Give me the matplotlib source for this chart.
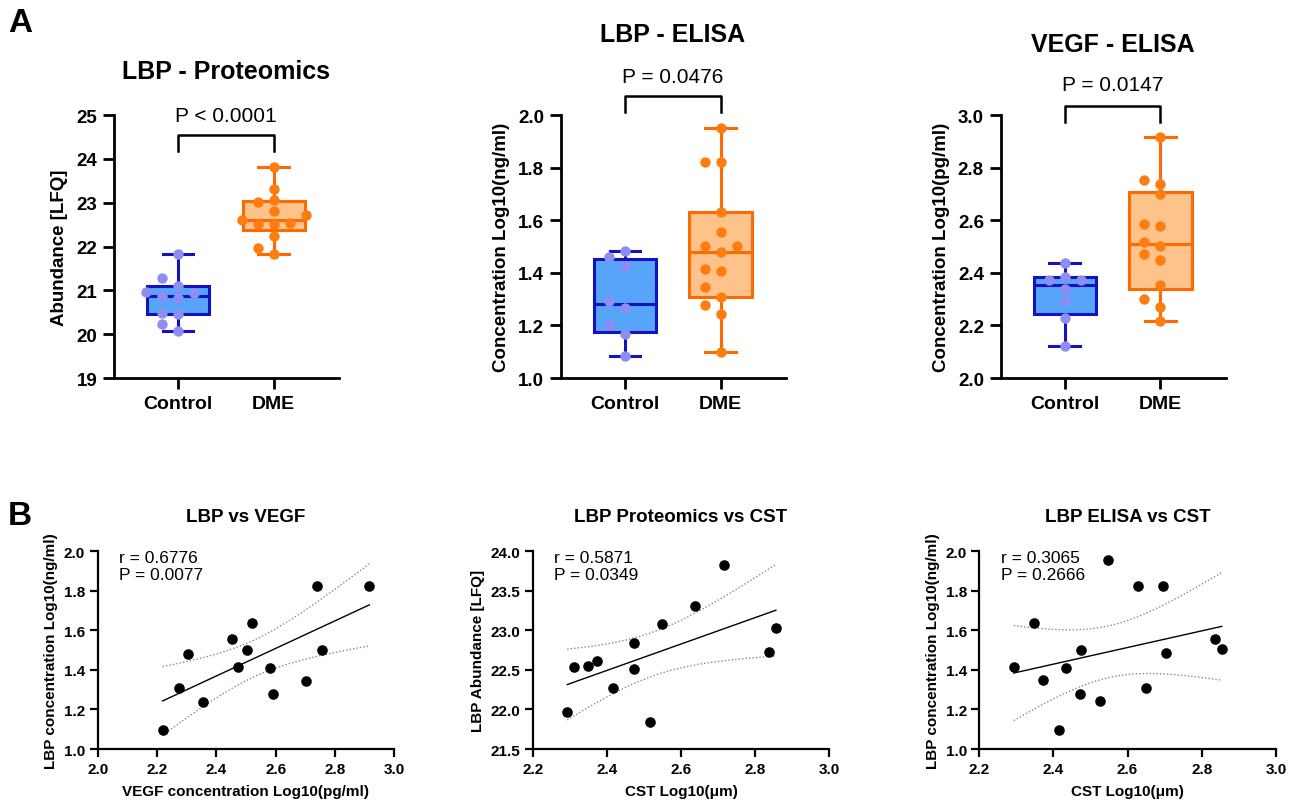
"""LBP / VEGF box plots (A) and correlation scatter plots (B)."""

import matplotlib

matplotlib.use("Agg")
import matplotlib.pyplot as plt
import numpy as np

plt.rcParams["font.family"] = ["Liberation Sans", "DejaVu Sans"]

# ---- panel A data -------------------------------------------------------
groups = ["Control", "DME"]

prot_control = [21.82, 21.29, 21.09, 20.97, 20.95, 20.83, 20.88, 20.46, 20.48, 20.23, 20.07]
prot_dme = [23.82, 23.31, 23.02, 23.07, 22.82, 22.73, 22.60, 22.52, 22.52, 22.54, 22.25, 21.96, 21.82]

elisa_control = [1.482, 1.462, 1.427, 1.294, 1.266, 1.200, 1.167, 1.084]
elisa_dme = [1.949, 1.820, 1.820, 1.632, 1.554, 1.501, 1.501, 1.481, 1.415, 1.408,
             1.346, 1.309, 1.278, 1.243, 1.099]

vegf_control = [2.437, 2.371, 2.386, 2.371, 2.339, 2.292, 2.229, 2.122]
vegf_dme = [2.915, 2.754, 2.739, 2.698, 2.578, 2.586, 2.501, 2.516, 2.450, 2.470,
            2.352, 2.299, 2.269, 2.217]

box_titles = ["LBP - Proteomics", "LBP - ELISA", "VEGF - ELISA"]
box_ylabels = ["Abundance [LFQ]", "Concentration Log10(ng/ml)", "Concentration Log10(pg/ml)"]
box_pvalues = ["P < 0.0001", "P = 0.0476", "P = 0.0147"]

# ---- panel B data -------------------------------------------------------
vegf_x = [2.219, 2.273, 2.304, 2.354, 2.453, 2.473, 2.504, 2.519, 2.580, 2.590,
          2.701, 2.739, 2.757, 2.916]
lbp_vs_vegf = [1.095, 1.308, 1.482, 1.240, 1.555, 1.415, 1.499, 1.635, 1.408, 1.277,
               1.345, 1.824, 1.503, 1.826]

cst_prot_x = [2.293, 2.311, 2.349, 2.374, 2.416, 2.473, 2.474, 2.516, 2.549, 2.639,
              2.717, 2.838, 2.856]
prot_vs_cst = [21.968, 22.533, 22.554, 22.609, 22.267, 22.836, 22.516, 21.837, 23.081,
               23.313, 23.823, 22.731, 23.030]

cst_elisa_x = [2.293, 2.348, 2.373, 2.416, 2.434, 2.474, 2.472, 2.526, 2.546, 2.629,
               2.650, 2.695, 2.703, 2.836, 2.854]
elisa_vs_cst = [1.417, 1.636, 1.347, 1.096, 1.410, 1.501, 1.278, 1.245, 1.954, 1.823,
                1.309, 1.825, 1.484, 1.556, 1.504]

scatter_titles = ["LBP vs VEGF", "LBP Proteomics vs CST", "LBP ELISA vs CST"]
scatter_xlabels = ["VEGF concentration Log10(pg/ml)", "CST Log10(\u03bcm)", "CST Log10(\u03bcm)"]
scatter_ylabels = ["LBP concentration Log10(ng/ml)", "LBP Abundance [LFQ]",
                   "LBP concentration Log10(ng/ml)"]
scatter_stats = ["r = 0.6776\nP = 0.0077", "r = 0.5871\nP = 0.0349", "r = 0.3065\nP = 0.2666"]

T_CRIT = {11: 2.201, 12: 2.179, 13: 2.160}

CTRL_EDGE, CTRL_FILL, CTRL_DOT = "#1212BE", "#57A5FA", "#8D8DF2"
DME_EDGE, DME_FILL, DME_DOT = "#FF6A00", "#FDC38A", "#FF7C10"


def box_stats(values):
    v = np.asarray(values)
    q1, med, q3 = np.percentile(v, [25, 50, 75], method="weibull")
    return {"med": med, "q1": q1, "q3": q3, "whislo": v.min(), "whishi": v.max(), "fliers": []}


def swarm_offsets(ax, values, step_px=16.0, gap_px=10.0):
    """Greedy beeswarm in pixel space, returns x offsets in data units."""
    trans = ax.transData
    px_per_x = trans.transform((1, 0))[0] - trans.transform((0, 0))[0]
    ys = trans.transform(np.column_stack([np.zeros(len(values)), values]))[:, 1]
    order = np.argsort(ys)
    placed = []
    offsets = np.zeros(len(values))
    for i in order:
        k = 0
        while True:
            slot = 0 if k == 0 else ((k + 1) // 2) * (1 if k % 2 == 0 else -1)
            if all(not (s == slot and abs(ys[i] - y) < gap_px) for s, y in placed):
                break
            k += 1
        placed.append((slot, ys[i]))
        offsets[i] = slot * step_px / px_per_x
    return offsets


def draw_box_panel(ax, ctrl, dme, ylim, yticks, title, ylabel, ptext, geom):
    ax.set_xlim(-0.67, 1.68)
    ax.set_ylim(*ylim)
    stats = [box_stats(ctrl), box_stats(dme)]
    for pos, st, edge, fill in [(0, stats[0], CTRL_EDGE, CTRL_FILL), (1, stats[1], DME_EDGE, DME_FILL)]:
        ax.bxp([st], positions=[pos], widths=0.65, capwidths=0.32, patch_artist=True,
               showfliers=False, manage_ticks=False,
               boxprops={"facecolor": fill, "edgecolor": edge, "linewidth": 2.2},
               medianprops={"color": edge, "linewidth": 2.2},
               whiskerprops={"color": edge, "linewidth": 2.2},
               capprops={"color": edge, "linewidth": 2.2})
    for pos, vals, color in [(0, ctrl, CTRL_DOT), (1, dme, DME_DOT)]:
        offs = swarm_offsets(ax, vals)
        ax.scatter(pos + offs, vals, s=56, color=color, zorder=5, linewidths=0)

    ax.set_xticks([0, 1])
    ax.set_xticklabels(groups, fontsize=14, fontweight="bold")
    ax.set_yticks(yticks)
    ax.set_yticklabels([f"{t:g}" if ylim[1] > 10 else f"{t:.1f}" for t in yticks],
                       fontsize=13.5, fontweight="bold")
    ax.set_ylabel(ylabel, fontsize=13.5, fontweight="bold", labelpad=6)
    for side in ["top", "right"]:
        ax.spines[side].set_visible(False)
    for side in ["left", "bottom"]:
        ax.spines[side].set_linewidth(2.0)
    ax.tick_params(width=2.0, length=8, pad=4)

    bracket_top, bracket_leg, p_y, title_y = geom
    ax.plot([0, 0, 1, 1], [bracket_leg, bracket_top, bracket_top, bracket_leg],
            color="black", linewidth=1.8, clip_on=False)
    ax.text(0.5, p_y, ptext, ha="center", va="center", fontsize=15)
    ax.text(0.5, title_y, title, ha="center", va="center", fontsize=18, fontweight="bold")


def fit_band(x, y):
    x = np.asarray(x)
    y = np.asarray(y)
    n = len(x)
    slope, intercept = np.polyfit(x, y, 1)
    xs = np.linspace(x.min(), x.max(), 120)
    yhat = slope * xs + intercept
    resid = y - (slope * x + intercept)
    s = np.sqrt(np.sum(resid ** 2) / (n - 2))
    sxx = np.sum((x - x.mean()) ** 2)
    se = s * np.sqrt(1.0 / n + (xs - x.mean()) ** 2 / sxx)
    t = T_CRIT[n - 2]
    return xs, yhat, yhat - t * se, yhat + t * se


def draw_scatter_panel(ax, x, y, xlim, xticks, ylim, yticks, title, xlabel, ylabel, stat, yfmt):
    ax.set_xlim(*xlim)
    ax.set_ylim(*ylim)
    xs, yhat, lo, hi = fit_band(x, y)
    ax.plot(xs, yhat, color="black", linewidth=1.0)
    ax.plot(xs, lo, color="#8a8a8a", linewidth=1.0, linestyle=(0, (1, 1.5)))
    ax.plot(xs, hi, color="#8a8a8a", linewidth=1.0, linestyle=(0, (1, 1.5)))
    ax.scatter(x, y, s=58, color="black", zorder=5, linewidths=0)

    ax.set_xticks(xticks)
    ax.set_xticklabels([f"{t:.1f}" for t in xticks], fontsize=11, fontweight="bold")
    ax.set_yticks(yticks)
    ax.set_yticklabels([yfmt.format(t) for t in yticks], fontsize=11, fontweight="bold")
    ax.set_xlabel(xlabel, fontsize=11, fontweight="bold", labelpad=6)
    ax.set_ylabel(ylabel, fontsize=11, fontweight="bold", labelpad=4)
    ax.set_title(title, fontsize=13.5, fontweight="bold", pad=22)
    for side in ["top", "right"]:
        ax.spines[side].set_visible(False)
    for side in ["left", "bottom"]:
        ax.spines[side].set_linewidth(1.6)
    ax.tick_params(width=1.6, length=6, pad=3)
    ax.text(0.073, 1.005, stat, transform=ax.transAxes, ha="left", va="top",
            fontsize=12.5, linespacing=1.1)


def main():
    fig = plt.figure(figsize=(12.95, 8.03), dpi=100)

    top_lefts = [0.0880, 0.4330, 0.7727]
    top_axes = [fig.add_axes([l, 0.528, 0.1737, 0.3275]) for l in top_lefts]

    draw_box_panel(top_axes[0], prot_control, prot_dme, (19, 25), np.arange(19, 26, 1),
                   box_titles[0], box_ylabels[0], box_pvalues[0], (24.54, 24.18, 25.0, 26.0))
    draw_box_panel(top_axes[1], elisa_control, elisa_dme, (1.0, 2.0), np.arange(1.0, 2.01, 0.2),
                   box_titles[1], box_ylabels[1], box_pvalues[1], (2.072, 2.01, 2.145, 2.31))
    draw_box_panel(top_axes[2], vegf_control, vegf_dme, (2.0, 3.0), np.arange(2.0, 3.01, 0.2),
                   box_titles[2], box_ylabels[2], box_pvalues[2], (3.036, 2.972, 3.115, 3.27))

    bot_lefts = [0.0754, 0.4114, 0.7562]
    bot_axes = [fig.add_axes([l, 0.066, 0.229, 0.2462]) for l in bot_lefts]

    draw_scatter_panel(bot_axes[0], vegf_x, lbp_vs_vegf, (2.0, 3.0), np.arange(2.0, 3.01, 0.2),
                       (1.0, 2.0), np.arange(1.0, 2.01, 0.2), scatter_titles[0],
                       scatter_xlabels[0], scatter_ylabels[0], scatter_stats[0], "{:.1f}")
    draw_scatter_panel(bot_axes[1], cst_prot_x, prot_vs_cst, (2.2, 3.0), np.arange(2.2, 3.01, 0.2),
                       (21.5, 24.0), np.arange(21.5, 24.01, 0.5), scatter_titles[1],
                       scatter_xlabels[1], scatter_ylabels[1], scatter_stats[1], "{:.1f}")
    draw_scatter_panel(bot_axes[2], cst_elisa_x, elisa_vs_cst, (2.2, 3.0), np.arange(2.2, 3.01, 0.2),
                       (1.0, 2.0), np.arange(1.0, 2.01, 0.2), scatter_titles[2],
                       scatter_xlabels[2], scatter_ylabels[2], scatter_stats[2], "{:.1f}")

    fig.text(0.006, 0.960, "A", fontsize=24, fontweight="bold", va="baseline")
    fig.text(0.006, 0.346, "B", fontsize=24, fontweight="bold", va="baseline")

    fig.savefig("out.png", dpi=100)
    plt.close(fig)


if __name__ == "__main__":
    main()
